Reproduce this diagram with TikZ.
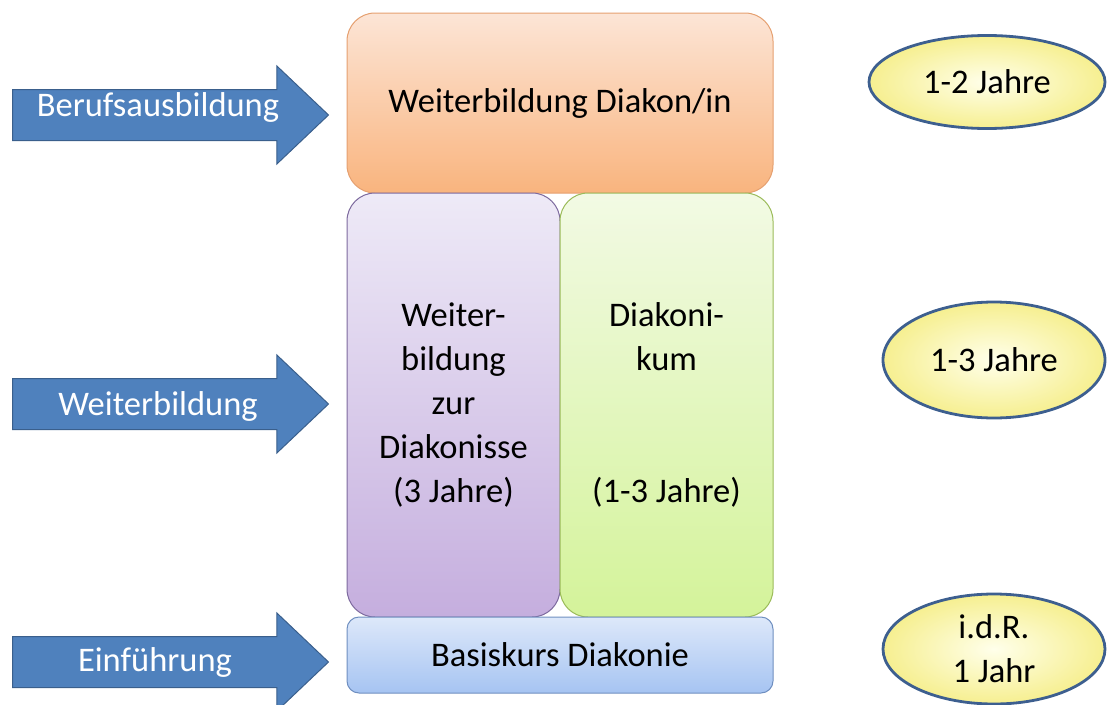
\documentclass[tikz,border=0pt]{standalone}
\usepackage{fontspec}
\setmainfont{Carlito}
\usetikzlibrary{shapes.arrows,shapes.geometric}
\definecolor{arrowblue}{HTML}{4F81BD}
\definecolor{arrowedge}{HTML}{3A5F8C}
\definecolor{ovalfill}{HTML}{F6EF90}
\definecolor{ovaledge}{HTML}{3D5F8F}
\def\colw{213pt}
\def\colh{424pt}
\def\arrowx{12}

\begin{document}
\begin{tikzpicture}[
    x=1pt, y=-1pt,
    font=\fontsize{34.5}{44}\selectfont,
    stagearrow/.style={
      single arrow, draw=arrowedge, fill=arrowblue, line width=1pt,
      anchor=tail, inner sep=25pt,
      minimum height=316pt, minimum width=97pt,
      single arrow head extend=23.5pt, single arrow tip angle=87
    },
    arrowlabel/.style={
      anchor=base, text=white, inner sep=0pt
    },
    stagebox/.style={
      rounded corners=28pt, line width=1pt, align=center, text=black
    },
    oval/.style={
      ellipse, draw=ovaledge, line width=2.8pt, align=center,
      inner color=yellow!8, outer color=ovalfill, text=black
    }
  ]
    \useasboundingbox (0,0) rectangle (1108,704);

    % left arrows
    \node[stagearrow] (ArrB) at (\arrowx,115) {};
    \node[stagearrow] (ArrW) at (\arrowx,404) {};
    \node[stagearrow] (ArrE) at (\arrowx,662) {};
    \node[arrowlabel] (LabB) at (158,116) {Berufsausbildung};
    \node[arrowlabel] (LabW) at (158,415) {Weiterbildung};
    \node[arrowlabel] (LabE) at (155,671) {Einführung};

    % middle boxes
    \node[stagebox, draw={rgb,255:red,229;green,160;blue,112},
          top color={rgb,255:red,252;green,229;blue,214},
          bottom color={rgb,255:red,249;green,180;blue,126},
          minimum width=426pt, minimum height=180pt]
          (WbDiakon) at (560,103) {Weiterbildung Diakon/in};
    \node[stagebox, draw={rgb,255:red,125;green,106;blue,158},
          top color={rgb,255:red,238;green,234;blue,247},
          bottom color={rgb,255:red,197;green,174;blue,222},
          minimum width=\colw, minimum height=\colh]
          (WbDiakonisse) at (453.5,405) {Weiter-\\bildung\\zur\\Diakonisse\\(3 Jahre)};
    \node[stagebox, draw={rgb,255:red,155;green,187;blue,89},
          top color={rgb,255:red,242;green,250;blue,228},
          bottom color={rgb,255:red,212;green,243;blue,154},
          minimum width=\colw, minimum height=\colh]
          (Diakonikum) at (666.5,405) {Diakoni-\\kum\\[88pt](1-3 Jahre)};
    \node[stagebox, rounded corners=12pt, draw={rgb,255:red,111;green,143;blue,192},
          top color={rgb,255:red,221;green,232;blue,250},
          bottom color={rgb,255:red,166;green,196;blue,242},
          minimum width=426pt, minimum height=76pt]
          (Basiskurs) at (560,655) {Basiskurs Diakonie};

    % right durations
    \node[oval, minimum width=236pt, minimum height=93pt] (DurA) at (987,82) {1-2 Jahre};
    \node[oval, minimum width=222pt, minimum height=116pt] (DurB) at (994,360) {1-3 Jahre};
    \node[oval, minimum width=222pt, minimum height=110pt] (DurC) at (994,649) {i.d.R.\\1 Jahr};
  \end{tikzpicture}
\end{document}
